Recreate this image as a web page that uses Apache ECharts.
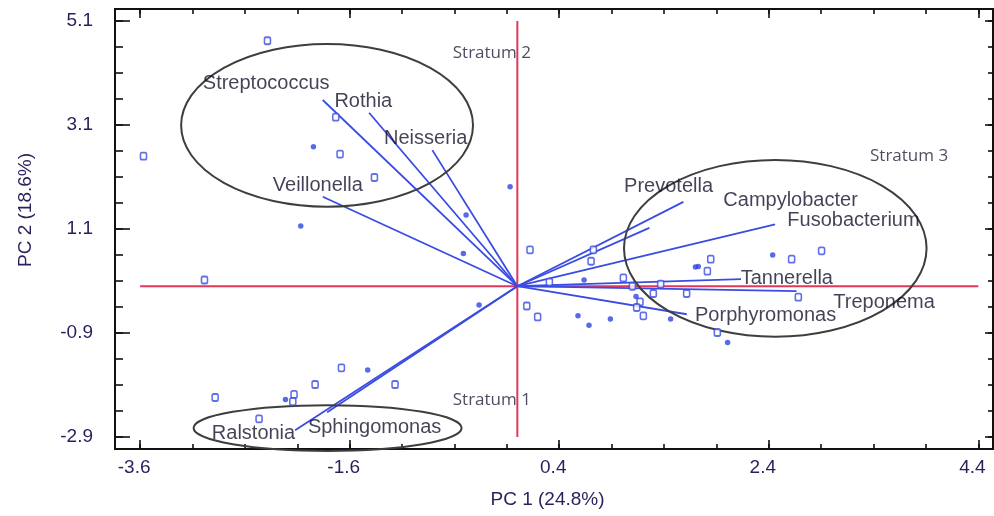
<!DOCTYPE html>
<html><head><meta charset="utf-8">
<script src="https://cdn.jsdelivr.net/npm/echarts@6/dist/echarts.min.js"></script>
<style>html,body{margin:0;padding:0;background:#fff}#c{width:994px;height:516px}</style>
</head><body><div id="c"></div>
<script>
// ---------- axes ----------
const xRange = [-3.84, 4.54];
const yRange = [-3.13, 5.33];
const xMajorTicks = [-3.6, -1.6, 0.4, 2.4, 4.4];
const xMinorTicks = [-3.6, -3.1, -2.6, -2.1, -1.6, -1.1, -0.6, -0.1, 0.4, 0.9, 1.4, 1.9, 2.4, 2.9, 3.4, 3.9, 4.4];
const yMajorTicks = [-2.9, -0.9, 1.1, 3.1, 5.1];
const yMinorTicks = [-2.9, -2.4, -1.9, -1.4, -0.9, -0.4, 0.1, 0.6, 1.1, 1.6, 2.1, 2.6, 3.1, 3.6, 4.1, 4.6, 5.1];
const xAxisName = 'PC 1 (24.8%)';
const yAxisName = 'PC 2 (18.6%)';

// ---------- loadings (vectors from origin) ----------
const species = ['Streptococcus', 'Rothia', 'Neisseria', 'Veillonella', 'Prevotella', 'Campylobacter',
  'Fusobacterium', 'Tannerella', 'Treponema', 'Porphyromonas', 'Sphingomonas', 'Ralstonia'];
const loadings = [[-1.857, 3.580], [-1.415, 3.335], [-0.811, 2.617], [-1.857, 1.719], [1.585, 1.622], [1.260, 1.122],
  [2.460, 1.187], [2.135, 0.135], [2.665, -0.096], [1.617, -0.539], [-1.815, -2.425], [-2.121, -2.771]];
const speciesLabelAt = [[-3.002, 3.907], [-1.746, 3.547], [-1.272, 2.843], [-2.334, 1.944], [1.019, 1.924], [1.966, 1.655],
  [2.577, 1.270], [2.132, 0.148], [3.016, -0.321], [1.696, -0.558], [-1.999, -2.719], [-2.916, -2.835]];

// ---------- sample scores ----------
const samplesOpen = [[-2.385, 4.72], [-3.568, 2.50], [-1.733, 3.25], [-1.692, 2.54], [-1.364, 2.09], [-2.986, 0.12],
  [0.121, 0.70], [0.726, 0.70], [0.704, 0.48], [0.306, 0.08], [1.012, 0.16], [1.098, 0.00], [1.368, 0.04],
  [1.298, -0.14], [1.616, -0.14], [1.171, -0.30], [1.139, -0.41], [1.203, -0.57], [0.090, -0.38], [0.194, -0.59],
  [1.909, -0.89], [1.846, 0.52], [1.814, 0.29], [2.618, 0.52], [2.904, 0.68], [2.682, -0.21],
  [-2.884, -2.14], [-2.131, -2.08], [-2.143, -2.22], [-1.930, -1.89], [-1.679, -1.57], [-1.167, -1.89], [-2.465, -2.55]];
const samplesFilled = [[-1.946, 2.68], [-2.067, 1.16], [-0.069, 1.91], [-0.489, 1.37], [-0.515, 0.63], [-0.365, -0.36],
  [0.637, 0.12], [1.133, -0.20], [1.463, -0.63], [0.579, -0.57], [0.684, -0.75], [0.888, -0.63], [1.727, 0.38],
  [1.700, 0.37], [2.437, 0.60], [2.007, -1.08], [-2.213, -2.18], [-1.428, -1.61]];

// ---------- strata ----------
const strataNames = ['Stratum 1', 'Stratum 2', 'Stratum 3'];
const strataLabelAt = [[-0.616, -2.194], [-0.616, 4.490], [3.366, 2.502]];
const ellipseCenters = [[-1.811, -2.727], [-1.816, 3.094], [2.462, 0.729]];
const ellipseRadii = [[1.279, 0.44], [1.393, 1.564], [1.444, 1.699]];

// ---------- reference cross ----------
const crossH = [[-3.6, 0], [4.4, 0]];
const crossV = [[0, -2.9], [0, 5.1]];

const FONT = 'Liberation Sans';
const AX = '#111111';
const TXT = '#2a1f5c';
const BLUE = '#3a4ce2';

function xAx(position, ticks, len, withLabel) {
  const a = {
    type: 'value', position: position, min: xRange[0], max: xRange[1],
    axisLine: { show: true, onZero: false, lineStyle: { color: AX, width: 2 } },
    axisTick: { show: true, inside: true, length: len, customValues: ticks, lineStyle: { color: AX, width: 1.6 } },
    axisLabel: { show: false },
    splitLine: { show: false }
  };
  if (withLabel) {
    a.axisLabel = { show: true, customValues: ticks, margin: 9, fontSize: 19, color: TXT, fontFamily: FONT,
      padding: [0, 12, 0, 0], formatter: v => v.toFixed(1) };
    a.name = xAxisName; a.nameLocation = 'middle'; a.nameGap = 41;
    a.nameTextStyle = { fontSize: 19, color: TXT, fontFamily: FONT, padding: [0, 13, 0, 0] };
  }
  return a;
}
function yAx(position, ticks, len, withLabel) {
  const a = {
    type: 'value', position: position, min: yRange[0], max: yRange[1],
    axisLine: { show: true, onZero: false, lineStyle: { color: AX, width: 2 } },
    axisTick: { show: true, inside: true, length: len, customValues: ticks, lineStyle: { color: AX, width: 1.6 } },
    axisLabel: { show: false },
    splitLine: { show: false }
  };
  if (withLabel) {
    a.axisLabel = { show: true, customValues: ticks, margin: 22, fontSize: 19, color: TXT, fontFamily: FONT,
      formatter: v => v.toFixed(1) };
    a.name = yAxisName; a.nameLocation = 'middle'; a.nameGap = 80; a.nameRotate = 90;
    a.nameTextStyle = { fontSize: 19, color: TXT, fontFamily: FONT, padding: [0, 0, 0, 38] };
  }
  return a;
}

const chart = echarts.init(document.getElementById('c'), null, { renderer: 'canvas' });
chart.setOption({
  animation: false,
  backgroundColor: '#ffffff',
  grid: { left: 115, right: 1, top: 9, bottom: 67, containLabel: false },
  xAxis: [xAx('bottom', xMajorTicks, 9, true), xAx('bottom', xMinorTicks, 5, false),
          xAx('top', xMajorTicks, 9, false), xAx('top', xMinorTicks, 5, false)],
  yAxis: [yAx('left', yMajorTicks, 15, true), yAx('left', yMinorTicks, 8, false),
          yAx('right', yMajorTicks, 8, false), yAx('right', yMinorTicks, 5, false)],
  series: [
    { type: 'line', data: crossH, symbol: 'none', lineStyle: { color: '#e3375a', width: 2 }, z: 1, silent: true },
    { type: 'line', data: crossV, symbol: 'none', lineStyle: { color: '#e3375a', width: 2 }, z: 1, silent: true },
    { type: 'lines', coordinateSystem: 'cartesian2d', xAxisIndex: 0, yAxisIndex: 0, silent: true, z: 2,
      data: loadings.map(p => ({ coords: [[0, 0], p] })),
      lineStyle: { color: BLUE, width: 1.8, opacity: 1 } },
    { type: 'custom', silent: true, z: 3,
      data: ellipseCenters.map((c, i) => [c[0], c[1], ellipseRadii[i][0], ellipseRadii[i][1]]),
      renderItem: function (params, api) {
        const c = api.coord([api.value(0), api.value(1)]);
        const s = api.size([api.value(2), api.value(3)]);
        const rx = s[0], ry = s[1];
        const d = 'M ' + (c[0] - rx) + ' ' + c[1] + ' A ' + rx + ' ' + ry + ' 0 1 0 ' + (c[0] + rx) + ' ' + c[1] +
          ' A ' + rx + ' ' + ry + ' 0 1 0 ' + (c[0] - rx) + ' ' + c[1] + ' Z';
        return { type: 'path', shape: { pathData: d, x: c[0] - rx, y: c[1] - ry, width: 2 * rx, height: 2 * ry, layout: 'cover' },
          style: { fill: 'none', stroke: '#3e3e3e', lineWidth: 2 } };
      } },
    { type: 'scatter', data: samplesOpen, symbol: 'roundRect', symbolSize: [6, 7], z: 4,
      itemStyle: { color: '#ffffff', borderColor: BLUE, borderWidth: 1.7 } },
    { type: 'scatter', data: samplesFilled, symbol: 'circle', symbolSize: 5.5, z: 4,
      itemStyle: { color: '#2f45e0' } },
    { type: 'scatter', symbolSize: 0, z: 5, silent: true,
      data: species.map((n, i) => ({ name: n, value: speciesLabelAt[i] })),
      label: { show: true, position: 'right', distance: 0, formatter: '{b}', color: '#15132c', fontSize: 20, fontFamily: FONT } },
    { type: 'scatter', symbolSize: 0, z: 5, silent: true,
      data: strataNames.map((n, i) => ({ name: n, value: strataLabelAt[i] })),
      label: { show: true, position: 'right', distance: 0, formatter: '{b}', color: '#22203a', fontSize: 17, fontFamily: 'Open Sans' } }
  ]
});
</script></body></html>
